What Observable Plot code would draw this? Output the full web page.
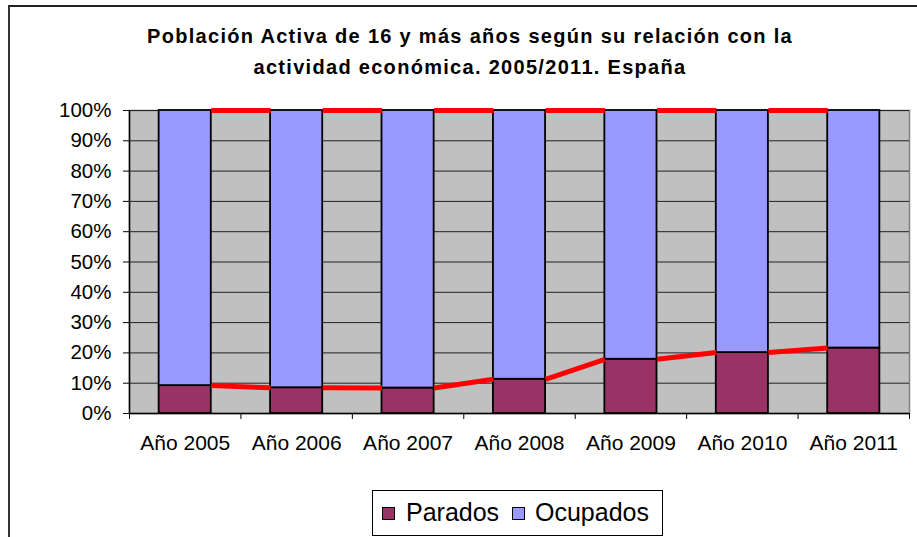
<!DOCTYPE html>
<html>
<head>
<meta charset="utf-8">
<script src="https://cdn.jsdelivr.net/npm/d3@7"></script>
<script src="https://cdn.jsdelivr.net/npm/@observablehq/plot@0.6"></script>
<style>
  body { margin: 0; background: #fff; font-family: "Liberation Sans", Arial, sans-serif; }
  #wrap { position: relative; width: 917px; height: 537px; overflow: hidden; background: #fff; }
  #border { position: absolute; left: 8px; top: 5px; width: 1000px; height: 700px; border-top: 2px solid #222; border-left: 2px solid #333; }
  #chart { position: absolute; left: 0; top: 0; }
  #title { position: absolute; left: 0; top: 21px; width: 940px; text-align: center; font-weight: bold; font-size: 20px; letter-spacing: 1.3px; line-height: 31px; color: #000; }
  #legend { position: absolute; left: 372px; top: 490px; width: 289px; height: 44px; border: 1px solid #000; background: #fff; font-size: 25px; }
  #legend span { position: absolute; }
  .sw { width: 11px; height: 11px; border: 1px solid #000; top: 16px; }
  .lt { top: 6px; line-height: 30px; }
</style>
</head>
<body>
<div id="wrap">
  <div id="border"></div>
  <div id="chart"></div>
  <div id="title">Población Activa de 16 y más años según su relación con la<br>actividad económica. 2005/2011. España</div>
  <div id="legend">
    <span class="sw" style="left:9px;background:#993366"></span><span class="lt" style="left:33px">Parados</span>
    <span class="sw" style="left:139px;background:#9999FF"></span><span class="lt" style="left:162px">Ocupados</span>
  </div>
</div>
<script>
const years = ["Año 2005", "Año 2006", "Año 2007", "Año 2008", "Año 2009", "Año 2010", "Año 2011"];
const parados = [9.2, 8.5, 8.4, 11.3, 17.9, 20.1, 21.6];
const ocupados = [90.8, 91.5, 91.6, 88.7, 82.1, 79.9, 78.4];
const seriesNames = ["Parados", "Ocupados"];
const seriesColors = ["#993366", "#9999FF"];
const yTicks = [0, 10, 20, 30, 40, 50, 60, 70, 80, 90, 100];

const hw = 0.234; // half bar width in band units
const rows = [];
years.forEach((yr, i) => {
  rows.push({i, serie: "Parados", y1: 0, y2: parados[i]});
  rows.push({i, serie: "Ocupados", y1: parados[i], y2: parados[i] + ocupados[i]});
});
const links = [];
for (let i = 0; i < years.length - 1; i++) {
  links.push({x1: i + hw, x2: i + 1 - hw, y1: parados[i], y2: parados[i + 1]});
  links.push({x1: i + hw, x2: i + 1 - hw, y1: parados[i] + ocupados[i], y2: parados[i + 1] + ocupados[i + 1]});
}
const boundaries = d3.range(-0.5, years.length, 1);

const chart = Plot.plot({
  width: 917,
  height: 537,
  marginTop: 110,
  marginBottom: 124,
  marginLeft: 129,
  marginRight: 8,
  style: {fontFamily: "Liberation Sans, Arial, sans-serif", fontSize: "20px", color: "#000", background: "transparent"},
  x: {type: "linear", domain: [-0.5, years.length - 0.5], axis: null},
  y: {domain: [0, 100], axis: null},
  color: {domain: seriesNames, range: seriesColors},
  marks: [
    Plot.frame({fill: "#C0C0C0", stroke: "#808080", strokeWidth: 1.5}),
    Plot.ruleY(yTicks, {stroke: "#222", strokeWidth: 1}),
    Plot.rectY(rows, {x1: d => d.i - hw, x2: d => d.i + hw, y1: "y1", y2: "y2", fill: "serie", stroke: "#000", strokeWidth: 1.8}),
    Plot.link(links, {x1: "x1", y1: "y1", x2: "x2", y2: "y2", stroke: "#FF0000", strokeWidth: 5, strokeLinecap: "butt"}),
    Plot.ruleX([-0.5], {stroke: "#000", strokeWidth: 1.5}),
    Plot.ruleY([0], {stroke: "#000", strokeWidth: 1.5}),
    Plot.axisY({ticks: yTicks, tickFormat: d => d + "%", tickSize: 6, tickPadding: 12, stroke: "#000", fontSize: 20.5}),
    Plot.axisX({ticks: boundaries, tickFormat: () => "", tickSize: 6, stroke: "#000"}),
    Plot.axisX({ticks: d3.range(years.length), tickFormat: i => years[i], tickSize: 0, tickPadding: 22, fontSize: 21, style: {letterSpacing: "0.8px"}})
  ]
});
document.getElementById("chart").appendChild(chart);
</script>
</body>
</html>
